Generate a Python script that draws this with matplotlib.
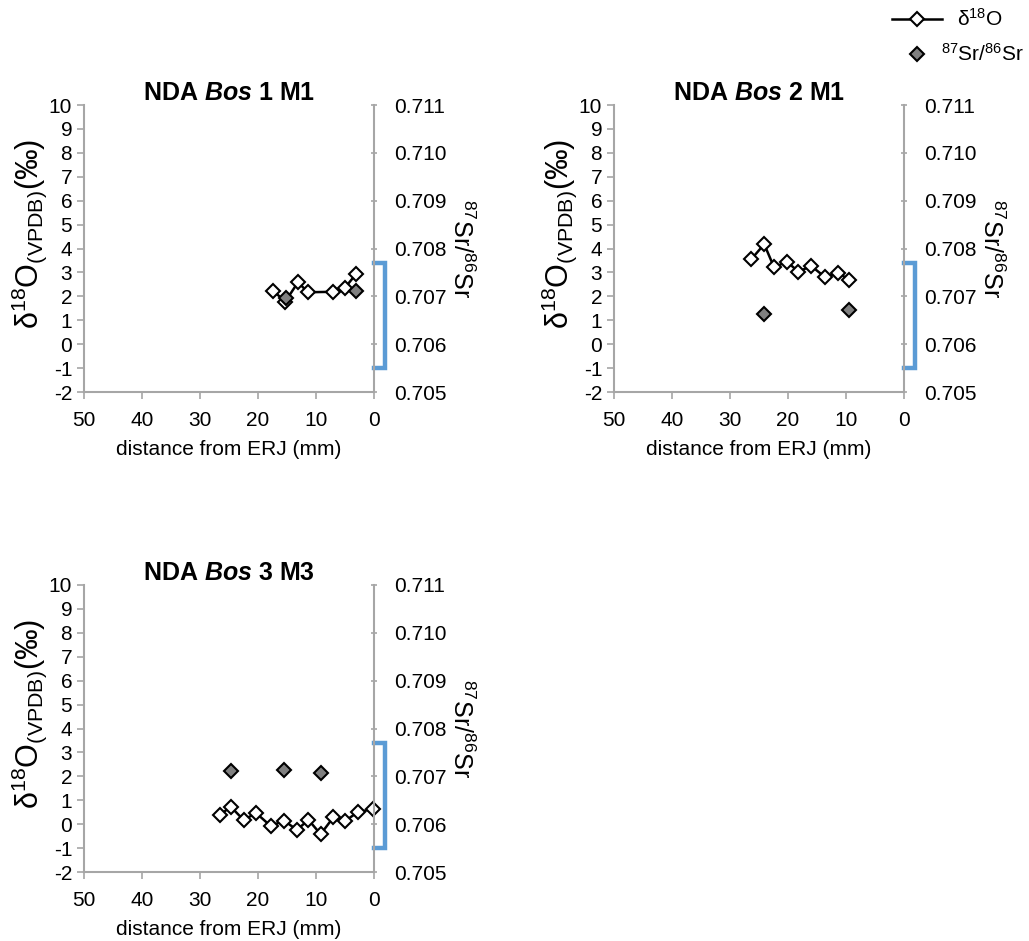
import matplotlib
matplotlib.use("Agg")
import matplotlib.pyplot as plt
import matplotlib.transforms as mtransforms
from matplotlib.lines import Line2D
from matplotlib.ticker import FormatStrFormatter

plt.rcParams['font.family'] = ['Liberation Sans', 'DejaVu Sans']
plt.rcParams['mathtext.fontset'] = 'custom'
plt.rcParams['mathtext.rm'] = 'Liberation Sans'
plt.rcParams['mathtext.it'] = 'Liberation Sans:italic'
plt.rcParams['mathtext.bf'] = 'Liberation Sans:bold'
plt.rcParams['mathtext.bfit'] = 'Liberation Sans:bold:italic'
plt.rcParams['mathtext.default'] = 'regular'
plt.rcParams['axes.unicode_minus'] = False

# ---------------- data ----------------
titles = ["NDA $\\mathbfit{Bos}$ 1 M1", "NDA $\\mathbfit{Bos}$ 2 M1", "NDA $\\mathbfit{Bos}$ 3 M3"]

bos1_o_dist = [17.4, 15.3, 13.1, 11.4, 7.1, 5.0, 3.1]
bos1_o_val = [2.24, 1.78, 2.59, 2.17, 2.19, 2.36, 2.93]
bos1_sr_dist = [15.2, 3.1]
bos1_sr_val = [0.70697, 0.70712]

bos2_o_dist = [26.3, 24.1, 22.4, 20.2, 18.2, 16.0, 13.6, 11.4, 9.4]
bos2_o_val = [3.56, 4.18, 3.21, 3.45, 3.03, 3.27, 2.80, 2.99, 2.68]
bos2_sr_dist = [24.1, 9.5]
bos2_sr_val = [0.70663, 0.70672]

bos3_o_dist = [26.6, 24.7, 22.5, 20.3, 17.8, 15.5, 13.3, 11.3, 9.2, 7.0, 5.0, 2.7, 0.1]
bos3_o_val = [0.38, 0.73, 0.18, 0.46, -0.08, 0.15, -0.24, 0.18, -0.42, 0.29, 0.13, 0.52, 0.62]
bos3_sr_dist = [24.7, 15.5, 9.2]
bos3_sr_val = [0.70712, 0.70714, 0.70706]

local_sr_range = [0.7055, 0.7077]

x_ticks = [50, 40, 30, 20, 10, 0]
o_ticks = list(range(-2, 11))
sr_ticks = [0.705, 0.706, 0.707, 0.708, 0.709, 0.710, 0.711]

legend_labels = ['δ$^{18}$O', '$^{87}$Sr/$^{86}$Sr']

panels = [
    (titles[0], bos1_o_dist, bos1_o_val, bos1_sr_dist, bos1_sr_val),
    (titles[1], bos2_o_dist, bos2_o_val, bos2_sr_dist, bos2_sr_val),
    (titles[2], bos3_o_dist, bos3_o_val, bos3_sr_dist, bos3_sr_val),
]

# ---------------- layout ----------------
W, H = 1029, 941
fig = plt.figure(figsize=(W / 100, H / 100), dpi=100)
boxes = [(84, 105), (614, 105), (84, 585)]  # left, top in px
aw, ah = 290, 287

axis_col = '#A6A6A6'
bracket_col = '#5B9BD5'
fs_tick = 15
white_kw = dict(marker='D', ms=7.5, mfc='white', mec='black', mew=1.5)
gray_kw = dict(marker='D', ms=7.5, mfc='#808080', mec='black', mew=1.5)

for (left, top), (title, od, ov, sd, sv) in zip(boxes, panels):
    ax = fig.add_axes([left / W, (H - top - ah) / H, aw / W, ah / H])
    ax.set_xlim(50, 0)
    ax.set_ylim(-2, 10)
    ax.set_xticks(x_ticks)
    ax.set_yticks(o_ticks)
    for s in ['top', 'right']:
        ax.spines[s].set_visible(False)
    for s in ['left', 'bottom']:
        ax.spines[s].set_color(axis_col)
        ax.spines[s].set_linewidth(1.5)
    ax.tick_params(colors=axis_col, labelcolor='black', labelsize=fs_tick, length=5, width=1.2)
    ax.tick_params(axis='x', pad=9)
    ax.plot(od, ov, color='black', lw=1.8, clip_on=False, zorder=3, **white_kw)
    ax.set_xlabel('distance from ERJ (mm)', fontsize=fs_tick, labelpad=7)
    ax.set_ylabel('δ$^{18}$O$_{(VPDB)}$(‰)', fontsize=22)
    ax.yaxis.set_label_coords(-0.12, 0.55)
    ax.set_title(title, fontsize=18, fontweight='bold', pad=0)

    ax2 = ax.twinx()
    ax2.set_ylim(0.705, 0.711)
    ax2.set_yticks(sr_ticks)
    ax2.yaxis.set_major_formatter(FormatStrFormatter('%.3f'))
    for s in ['top', 'left', 'bottom']:
        ax2.spines[s].set_visible(False)
    ax2.spines['right'].set_color(axis_col)
    ax2.spines['right'].set_linewidth(1.5)
    ax2.tick_params(axis='y', colors=axis_col, labelcolor='black', labelsize=fs_tick, length=5,
                    width=1.2, direction='inout', pad=12)
    ax2.plot(sd, sv, linestyle='none', clip_on=False, zorder=4, **gray_kw)
    ax2.set_ylabel('$^{87}$Sr/$^{86}$Sr', fontsize=18, rotation=270, labelpad=20)

    trans = mtransforms.blended_transform_factory(ax2.transAxes, ax2.transData)
    x0, x1 = 1.0, 1.0 + 11 / aw
    lo, hi = local_sr_range
    ax2.plot([x0, x1, x1, x0], [hi, hi, lo, lo], transform=trans, color=bracket_col, lw=3.2,
             clip_on=False, solid_joinstyle='miter', zorder=2)

# ---------------- legend (figure coords) ----------------
def fx(px):
    return px / W

def fy(py):
    return 1 - py / H

fig.add_artist(Line2D([fx(892), fx(942)], [fy(19), fy(19)], color='black', lw=1.8))
fig.add_artist(Line2D([fx(917)], [fy(19)], **white_kw))
fig.text(fx(957), fy(19), legend_labels[0], fontsize=15, va='center', ha='left')
fig.add_artist(Line2D([fx(917)], [fy(54)], linestyle='none', **gray_kw))
fig.text(fx(941), fy(54), legend_labels[1], fontsize=15, va='center', ha='left')

fig.savefig('out.png', dpi=100)
